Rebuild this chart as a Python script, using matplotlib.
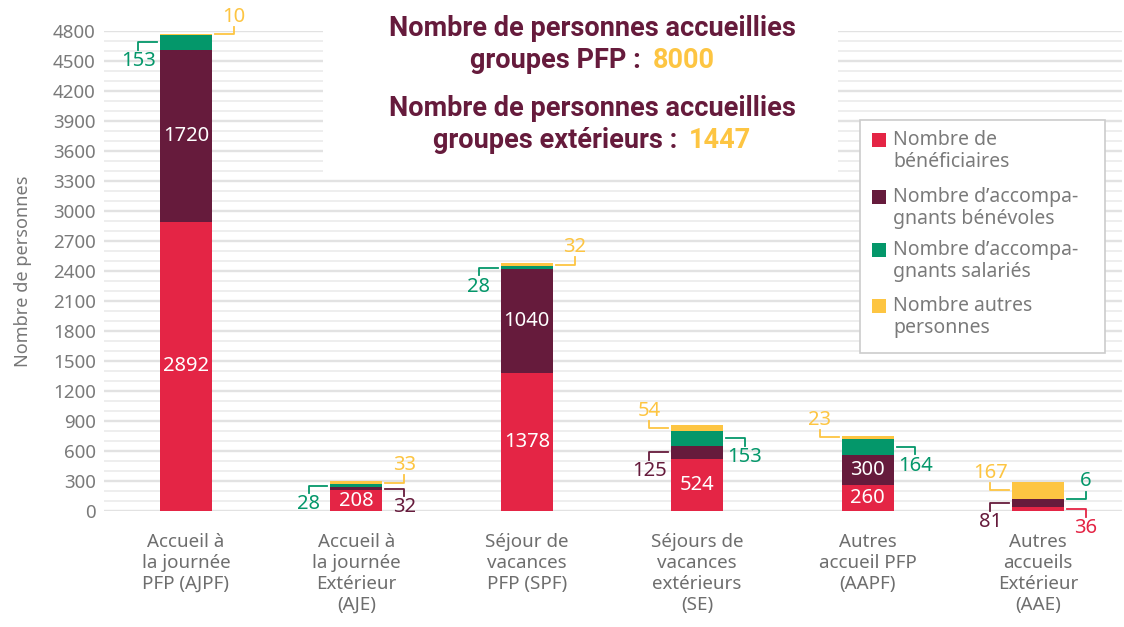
import matplotlib
matplotlib.use("Agg")
import matplotlib.pyplot as plt
import matplotlib.transforms as mtransforms
from matplotlib.patches import Rectangle
from matplotlib.ticker import MultipleLocator
import numpy as np

plt.rcParams["font.family"] = ["Noto Sans", "DejaVu Sans"]
TITLE_FONT = ["Roboto", "DejaVu Sans"]

# --- data ---------------------------------------------------------------
categories = [
    "Accueil à\nla journée\nPFP (AJPF)",
    "Accueil à\nla journée\nExtérieur\n(AJE)",
    "Séjour de\nvacances\nPFP (SPF)",
    "Séjours de\nvacances\nextérieurs\n(SE)",
    "Autres\naccueil PFP\n(AAPF)",
    "Autres\naccueils\nExtérieur\n(AAE)",
]
beneficiaires = [2892, 208, 1378, 524, 260, 36]
benevoles = [1720, 32, 1040, 125, 300, 81]
salaries = [153, 28, 28, 153, 164, 6]
autres = [10, 33, 32, 54, 23, 167]
series_names = [
    "Nombre de\nbénéficiaires",
    "Nombre d’accompa-\ngnants bénévoles",
    "Nombre d’accompa-\ngnants salariés",
    "Nombre autres\npersonnes",
]
colors = ["#E42545", "#661B3C", "#04976A", "#FDC542"]
title_lines = [
    ("Nombre de personnes accueillies", None),
    ("groupes PFP :", "8000"),
    ("Nombre de personnes accueillies", None),
    ("groupes extérieurs :", "1447"),
]
# where each value label goes: "in" = inside the segment,
# otherwise side (L/R) and direction (+ up / - down) of the elbow
placement = [
    ["in", "in", "L-", "R+"],
    ["in", "R-", "L-", "R+"],
    ["in", "in", "L-", "R+"],
    ["in", "L-", "R-", "L+"],
    ["in", "in", "R-", "L+"],
    ["R-", "L-", "R+", "L+"],
]

W, H = 1124, 627
fig = plt.figure(figsize=(W / 100, H / 100), dpi=100)
px = mtransforms.Affine2D().scale(1 / W, -1 / H).translate(0, 1) + fig.transFigure
ax = fig.add_axes([104 / W, (H - 511) / H, 1018 / W, 480 / H])

series = [beneficiaires, benevoles, salaries, autres]
x = np.arange(len(categories))
width = 0.305
bottom = np.zeros(len(categories))
for vals, col in zip(series, colors):
    ax.bar(x, vals, width, bottom=bottom, color=col, zorder=2)
    bottom += np.array(vals)

ax.set_xlim(-0.481, 5.493)
ax.set_ylim(0, 4800)
ax.yaxis.set_major_locator(MultipleLocator(300))
ax.yaxis.set_minor_locator(MultipleLocator(100))
ax.set_axisbelow(True)
ax.grid(axis="y", which="major", color="#E2E2E2", lw=1.7)
ax.grid(axis="y", which="minor", color="#EAEAEA", lw=1.1)
for s in ax.spines.values():
    s.set_visible(False)
ax.tick_params(axis="y", which="both", length=0, pad=6, labelsize=13.5, labelcolor="#7A7A7A")
ax.tick_params(axis="x", length=0, pad=16, labelsize=13.5, labelcolor="#6E6E6E")
ax.set_xticks(x)
ax.set_xticklabels(categories, linespacing=1.2, va="top")
ax.set_ylabel("Nombre de personnes", fontsize=13, color="#777777", labelpad=15)

# value labels
gap, run, rise = 0.018, 0.11, 75
base = np.zeros(len(categories))
for j, (vals, col) in enumerate(zip(series, colors)):
    for i, v in enumerate(vals):
        ymid = base[i] + v / 2
        where = placement[i][j]
        if where == "in":
            ax.text(x[i], ymid, str(v), ha="center", va="center",
                    color="white", fontsize=14.5, zorder=3)
        else:
            side = -1 if where[0] == "L" else 1
            up = where[1] == "+"
            x0 = x[i] + side * (width / 2 + gap)
            x1 = x0 + side * run
            y1 = ymid + (rise if up else -rise)
            ax.plot([x0, x1, x1], [ymid, ymid, y1], color=col, lw=1.3,
                    clip_on=False, zorder=3)
            ax.annotate(str(v), (x1, y1), xytext=(0, 0 if up else -1),
                        textcoords="offset points", ha="center",
                        va="bottom" if up else "top", color=col,
                        fontsize=14.5, annotation_clip=False)
    base += np.array(vals)

# white panel behind the title
fig.add_artist(Rectangle((323, 0), 515, 174, transform=px, fc="white",
                         ec="none", zorder=1))

# title with highlighted totals
renderer = fig.canvas.get_renderer()
title_y = [29, 61, 108, 140]
for (txt, num), ty in zip(title_lines, title_y):
    t1 = fig.text(592, ty, txt, transform=px, ha="center", va="center",
                  fontsize=19.5, fontweight="bold", color="#661B3C",
                  family=TITLE_FONT, zorder=3)
    if num:
        t2 = fig.text(0, ty, num, transform=px, ha="left", va="center",
                      fontsize=19.5, fontweight="bold", color="#FDC542",
                      family=TITLE_FONT, zorder=3)
        w1 = t1.get_window_extent(renderer).width
        w2 = t2.get_window_extent(renderer).width
        sp = 12
        x0 = 592 - (w1 + sp + w2) / 2
        t1.set_ha("left")
        t1.set_x(x0)
        t2.set_x(x0 + w1 + sp)

# legend box
fig.add_artist(Rectangle((860, 120), 245, 233, transform=px, fc="white",
                         ec="#CCCCCC", lw=1.2, zorder=1))
leg_y = [140, 197, 250, 306]
for name, col, ly in zip(series_names, colors, leg_y):
    fig.add_artist(Rectangle((872, ly - 7), 14, 14, transform=px, fc=col,
                             ec="none", zorder=2))
    fig.text(893, ly - 10, name, transform=px, ha="left", va="top",
             fontsize=14, color="#7A7A7A", linespacing=1.15, zorder=3)

fig.savefig("out.png", dpi=100)
